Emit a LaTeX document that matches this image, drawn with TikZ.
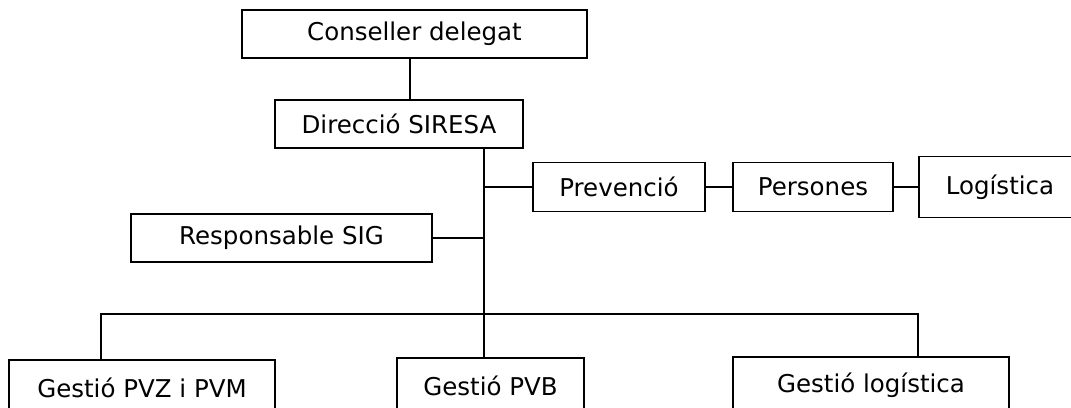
\documentclass[tikz,border=0pt]{standalone}
\usepackage{fontspec}
\setmainfont{DejaVu Sans}
\begin{document}
\begin{tikzpicture}[x=1pt,y=-1pt,line width=1.6pt,
	box/.style={draw,rectangle,inner sep=0pt,minimum height=48pt,font=\fontsize{24.5}{28}\selectfont}]
				\useasboundingbox (0,0) rectangle (1071,407);
				\clip (0,0) rectangle (1071,407);
				\node[box,minimum width=345pt] (cons) at (414.5,34) {Conseller delegat};
				\node[box,minimum width=248pt] (dir) at (399,124) {Direcció SIRESA};
				\node[box,minimum width=172pt,minimum height=49pt] (prev) at (619,187) {Prevenció};
				\node[box,minimum width=160pt,minimum height=49pt] (pers) at (813,187) {Persones};
				\node[box,minimum width=162pt,minimum height=61pt] (logi) at (1000,187) {Logística};
				\node[box,minimum width=301pt] (resp) at (281.5,238) {Responsable SIG};
				\node[box,minimum width=266pt,minimum height=56pt] (pvz) at (142,388) {Gestió PVZ i PVM};
				\node[box,minimum width=187pt,minimum height=56pt] (pvb) at (490.5,386) {Gestió PVB};
				\node[box,minimum width=276pt,minimum height=56pt] (glog) at (871,385) {Gestió logística};
				\coordinate (trunk) at (484,148);
				\coordinate (busl) at (101,314);
				\coordinate (busr) at (918,314);
				\draw (410,58) coordinate (c1) -- (c1 |- dir.north);
				\draw (trunk) -- (trunk |- pvb.north);
				\draw (trunk |- prev.west) -- (prev.west);
				\draw (prev.east) -- (pers.west);
				\draw (pers.east) -- (pers.east -| logi.west);
				\draw (resp.east) -- (resp.east -| trunk);
				\draw (busl |- pvz.north) -- (busl) -- (busr) -- (busr |- glog.north);
			\end{tikzpicture}
\end{document}
